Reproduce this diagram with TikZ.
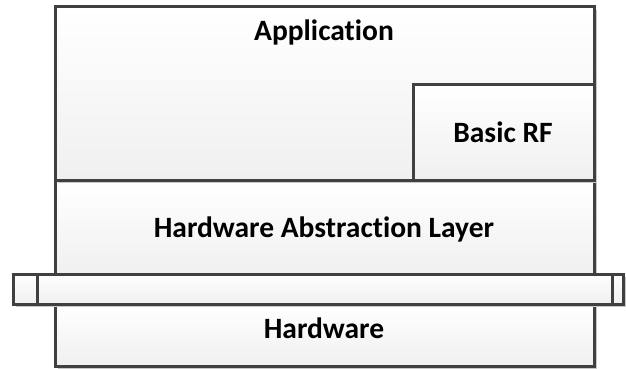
\documentclass[tikz,border=0pt]{standalone}
\usepackage{fontspec}
\setmainfont{Carlito}[Ligatures=NoCommon]
\usetikzlibrary{shadows}
\definecolor{edge}{HTML}{404040}
\definecolor{shade}{HTML}{C8C8C8}
\tikzset{
  layer/.style={draw=edge, line width=3pt, top color=white, bottom color=black!6,
    general shadow={fill=shade, shadow xshift=3pt, shadow yshift=-3pt}},
  lbl/.style={font=\bfseries\fontsize{29.5}{34}\selectfont, text=black}
}
\begin{document}
\begin{tikzpicture}[x=1pt,y=-1pt]
\useasboundingbox (0,0) rectangle (626,369);
% Hardware
\path[layer] (55,304) rectangle (594,366);
\node[lbl] (hw) at (324,328) {Hardware};
% HAL
\path[layer] (55,180) rectangle (594,274);
\node[lbl] (hal) at (324,229) {Hardware Abstraction Layer};
% Application
\path[layer] (55,7) rectangle (594,180);
\node[lbl] (app) at (324,32) {Application};
% Basic RF
\path[layer] (413,84) rectangle (594,180);
\node[lbl] (rf) at (503,132) {Basic RF};
% bar
\path[layer] (13,274) rectangle (623,304);
\draw[edge, line width=3pt] (37,274) -- (37,304);
\draw[edge, line width=3pt] (612,274) -- (612,304);
\end{tikzpicture}
\end{document}
